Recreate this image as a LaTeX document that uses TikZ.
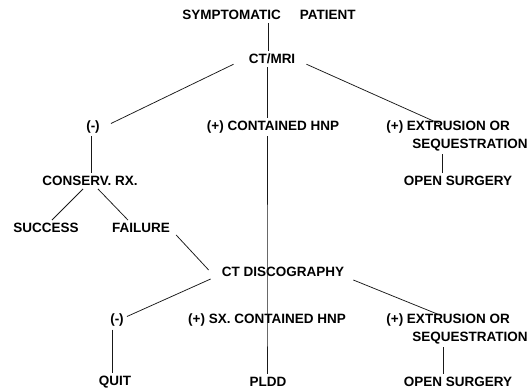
\documentclass[tikz,border=0pt]{standalone}
\usepackage{fontspec}
\setmainfont{Liberation Sans}
\begin{document}
\begin{tikzpicture}[x=1pt,y=-1pt,
  lbl/.style={font=\bfseries\fontsize{13.5}{18}\selectfont, inner sep=1pt, text=black},
  con/.style={draw=black!90, line width=0.75pt},
  vcon/.style={con, shorten <=2pt, shorten >=2pt}]
\useasboundingbox (0,0) rectangle (532,389);
\node[lbl] (symp) at (269,15) {SYMPTOMATIC\hspace{19pt}PATIENT};
\node[lbl] (ctmri) at (272,59) {CT/MRI};
\node[lbl] (neg1) at (93,127) {(-)};
\node[lbl] (chnp) at (273,127) {(+) CONTAINED HNP};
\node[lbl, align=left] (ext1) at (457,136) {(+) EXTRUSION OR\\\hspace*{26pt}SEQUESTRATION};
\node[lbl] (open1) at (458,181) {OPEN SURGERY};
\node[lbl] (cons) at (90,181) {CONSERV. RX.};
\node[lbl] (succ) at (46,228) {SUCCESS};
\node[lbl] (fail) at (141,228) {FAILURE};
\node[lbl] (ctd) at (283,272) {CT DISCOGRAPHY};
\node[lbl] (neg2) at (117,320) {(-)};
\node[lbl] (sxhnp) at (267,320) {(+) SX. CONTAINED HNP};
\node[lbl, align=left] (ext2) at (457,329) {(+) EXTRUSION OR\\\hspace*{26pt}SEQUESTRATION};
\node[lbl] (quit) at (115,382) {QUIT};
\node[lbl] (pldd) at (268,382) {PLDD};
\node[lbl] (open2) at (458,382) {OPEN SURGERY};

\draw[vcon] (symp.south -| 268,0) -- (ctmri.north -| 268,0);
\draw[con] ([xshift=-14pt,yshift=1pt]ctmri.south west) -- ([xshift=10pt,yshift=-4pt]neg1.north east);
\draw[vcon] (ctmri.south -| 267,0) -- (chnp.north -| 267,0);
\draw[vcon] (chnp.south -| 267,0) -- (ctd.center -| 267,0) -- (sxhnp.center -| 267,0) -- (pldd.north -| 267,0);
\draw[con] ([xshift=10pt,yshift=1pt]ctmri.south east) -- ([xshift=54pt,yshift=-4pt]ext1.north west);
\draw[vcon] (neg1.south -| 91,0) -- (cons.north -| 91,0);
\draw[vcon] (ext1.south -| 442,0) -- (open1.north -| 442,0);
\draw[con] ([xshift=-7pt,yshift=-2pt]cons.south) -- ([xshift=6pt,yshift=2pt]succ.north);
\draw[con] ([xshift=8pt,yshift=-2pt]cons.south) -- ([xshift=-13pt,yshift=2pt]fail.north);
\draw[con] ([xshift=5pt,yshift=-1pt]fail.south east) -- ([xshift=-12pt,yshift=-4pt]ctd.north west);
\draw[con] ([xshift=-10pt,yshift=-1pt]ctd.south west) -- ([xshift=2pt,yshift=-4pt]neg2.north east);
\draw[con] ([xshift=8pt,yshift=-2pt]ctd.south east) -- ([xshift=56pt,yshift=-3pt]ext2.north west);
\draw[vcon] (neg2.south -| 112,0) -- (quit.north -| 112,0);
\draw[vcon] (ext2.south -| 443,0) -- (open2.north -| 443,0);
\end{tikzpicture}
\end{document}
